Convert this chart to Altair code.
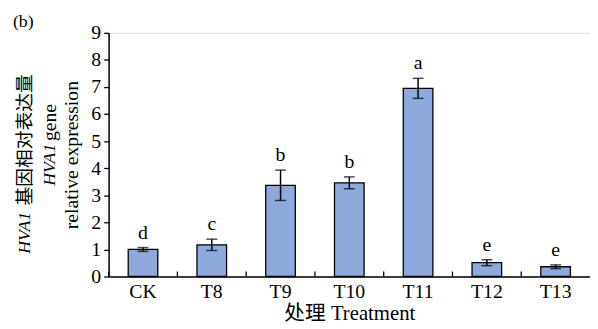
import altair as alt
import pandas as pd

categories = ["CK", "T8", "T9", "T10", "T11", "T12", "T13"]
values = [1.0, 1.17, 3.37, 3.46, 6.95, 0.51, 0.36]
errors = [0.07, 0.21, 0.56, 0.22, 0.37, 0.11, 0.07]
letters = ["d", "c", "b", "b", "a", "e", "e"]

df = pd.DataFrame({"cat": categories, "val": values, "err": errors, "lab": letters})

SERIF = "Liberation Serif"
MIXED = 'Liberation Serif, "Noto Sans CJK SC"'
CJK = "Noto Sans CJK SC"
FS = 20
W, H = 488, 247

xaxis = alt.Axis(title="处理 Treatment", labelAngle=0, ticks=False,
                 labelFont=SERIF, labelFontSize=FS, labelColor="black",
                 labelPadding=5, titleFont=MIXED, titleFontSize=21,
                 titleFontWeight="normal", titleColor="black", titlePadding=2,
                 domainColor="black", domainWidth=1.5)
yaxis = alt.Axis(title=None, values=list(range(10)), grid=False, tickSize=5,
                 tickColor="black", tickWidth=1.3, labelFont=SERIF,
                 labelFontSize=FS, labelColor="black", labelPadding=3,
                 labelOverlap=False, labelFlush=False,
                 domainColor="black", domainWidth=1.5)
xscale = alt.Scale(paddingInner=0, paddingOuter=0)
yscale = alt.Scale(domain=[0, 9], nice=False)

def X(**kw):
    return alt.X("cat:N", sort=categories, scale=xscale, axis=xaxis, **kw)

def Y(field):
    return alt.Y(field, scale=yscale, axis=yaxis)

base = alt.Chart(df).transform_calculate(
    lo="datum.val - datum.err", hi="datum.val + datum.err"
)

bars = base.mark_bar(size=30, color="#8eaadc", stroke="black", strokeWidth=1.3).encode(
    x=X(), y=Y("val:Q"))

err_rule = base.mark_rule(color="black", strokeWidth=1.5).encode(
    x=X(), y=Y("lo:Q"), y2="hi:Q")
cap_lo = base.mark_tick(color="black", size=11, thickness=1.5).encode(
    x=X(), y=Y("lo:Q"))
cap_hi = base.mark_tick(color="black", size=11, thickness=1.5).encode(
    x=X(), y=Y("hi:Q"))

labels = base.mark_text(font=SERIF, fontSize=FS, baseline="bottom", dy=-5, color="black").encode(
    x=X(), y=Y("hi:Q"), text="lab:N")

xticks = base.mark_rule(color="black", strokeWidth=1.3).encode(
    x=X(bandPosition=0),
    y=alt.value(H), y2=alt.value(H - 5))

tdf = pd.DataFrame({"t": ["x"]})
def txt(text, x, y, align="center", italic=False, size=FS, angle=270, font=SERIF):
    kw = dict(font=font, fontSize=size, color="black", align=align, baseline="middle",
              text=text, angle=angle)
    if italic:
        kw["fontStyle"] = "italic"
    return alt.Chart(tdf).mark_text(**kw).encode(x=alt.value(x), y=alt.value(y))

ox, oy = 110, 31
titles = [
    txt("HVA1", 25 - ox, 255 - oy, align="left", italic=True, size=18),
    txt("基因相对表达量", 25 - ox, 206 - oy, align="left", size=19, font=CJK),
    txt("HVA1", 51 - ox, 186 - oy, align="left", italic=True, size=18),
    txt("gene", 51 - ox, 103 - oy, align="right"),
    txt("relative expression", 73 - ox, 155 - oy),
    txt("(b)", 13 - ox, 20 - oy, align="left", angle=0, size=18),
]

chart = alt.layer(bars, err_rule, cap_lo, cap_hi, labels, xticks, *titles).properties(
    width=W, height=H,
    autosize=alt.AutoSizeParams(type="none"),
    padding={"left": 102, "top": 23, "right": 0, "bottom": 50},
).configure_view(stroke=None).configure(background="white")

chart.save("out.html", embed_options={"renderer": "svg", "actions": False})
